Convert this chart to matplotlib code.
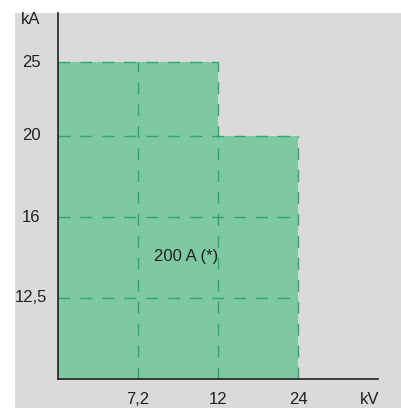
import matplotlib
matplotlib.use("Agg")
import matplotlib.pyplot as plt
from matplotlib.patches import Rectangle

# Data
voltage_labels = ["7,2", "12", "24"]          # kV
current_labels = ["12,5", "16", "20", "25"]   # kA
# rated short-time current (kA) available up to each voltage step
step_voltage_idx = [2, 3]      # region ends at 12 kV, then 24 kV
step_current = ["25", "20"]
note = "200 A (*)"

# positions on the (non-linear) drawing scale
x_pos = [1, 2, 3]
y_pos = {"12,5": 1.0, "16": 2.0, "20": 3.0, "25": 3.91}

W, H = 401, 408
fig = plt.figure(figsize=(W / 100, H / 100), dpi=100)
fig.patch.set_facecolor("white")
fig.add_artist(Rectangle((15 / W, 0), 1 - 15 / W, (H - 13) / H,
                         transform=fig.transFigure, facecolor="#dadadb",
                         edgecolor="none", zorder=0))

x0, x1 = 57.7, 378
y0, y1 = 379, 13
XS, YS = 80.2, 81.0
ax = fig.add_axes([x0 / W, (H - y0) / H, (x1 - x0) / W, (y0 - y1) / H])
ax.set_facecolor("none")
ax.set_xlim(0, (x1 - x0) / XS)
ax.set_ylim(0, (y0 - y1) / YS)

fill = "#7ec8a4"
dash = "#2ea866"
ls = (0, (8.6, 7.2))

# filled step area
left = 0
for xi, c in zip(step_voltage_idx, step_current):
    ax.bar(left, y_pos[c], width=xi - left, align="edge", color=fill,
           edgecolor="none", zorder=1)
    left = xi

# horizontal dashed lines
for lab in current_labels:
    yv = y_pos[lab]
    xmax = max(xi for xi, c in zip(step_voltage_idx, step_current) if y_pos[c] >= yv - 1e-9)
    ax.plot([0, xmax], [yv, yv], color=dash, lw=1.0, linestyle=ls, zorder=2)

# vertical dashed lines
for xp in x_pos:
    top = max(y_pos[c] for xi, c in zip(step_voltage_idx, step_current) if xi >= xp)
    ax.plot([xp, xp], [0, top], color=dash, lw=1.0, linestyle=ls, zorder=2)

for s in ["top", "right"]:
    ax.spines[s].set_visible(False)
for s in ["left", "bottom"]:
    ax.spines[s].set_color("#231f20")
    ax.spines[s].set_linewidth(1.2)
    ax.spines[s].set_zorder(3)
ax.set_xticks([])
ax.set_yticks([])

font = dict(family="Liberation Sans", size=12, color="#231f20")
for lab in current_labels:
    yfig = (H - (y0 - y_pos[lab] * YS)) / H
    fig.text(31 / W, yfig, lab, ha="center", va="center", **font)
fig.text(31 / W, (H - 20) / H, "kA", ha="center", va="center", **font)
for xp, lab in zip(x_pos, voltage_labels):
    xf = (x0 + xp * XS) / W
    fig.text(xf, (H - 399) / H, lab, ha="center", va="center", **font)
fig.text(370 / W, (H - 399) / H, "kV", ha="center", va="center", **font)
fig.text(186 / W, (H - 256) / H, note, ha="center", va="center", **font)

fig.savefig("out.png", dpi=100)
